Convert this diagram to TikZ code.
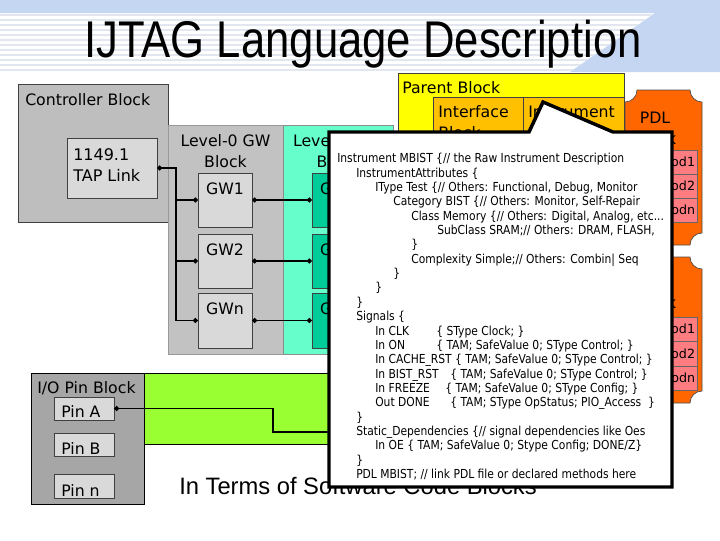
\documentclass[tikz,border=0pt]{standalone}
\usepackage{fontspec}
\setmainfont{DejaVu Sans}
\newfontfamily\titlefont[FakeStretch=0.845]{Liberation Sans}
\newfontfamily\capfont{Liberation Sans}
\newfontfamily\codefont[FakeStretch=0.865]{DejaVu Sans}
\usepackage{tikz}
\usetikzlibrary{arrows.meta,calc,fit,positioning}

\definecolor{bandblue}{RGB}{197,214,243}
\definecolor{stripegray}{RGB}{226,230,238}
\definecolor{ctrlgray}{RGB}{190,190,190}
\definecolor{gwgray}{RGB}{194,194,194}
\definecolor{boxgray}{RGB}{217,217,217}
\definecolor{pingray}{RGB}{166,166,166}
\definecolor{lvlone}{RGB}{102,255,204}
\definecolor{lvlonebox}{RGB}{0,204,153}
\definecolor{parentyellow}{RGB}{255,255,0}
\definecolor{ifaceorange}{RGB}{255,192,0}
\definecolor{pdlorange}{RGB}{255,102,0}
\definecolor{methodpink}{RGB}{255,124,128}
\definecolor{linkgreen}{RGB}{153,255,51}

\begin{document}
\begin{tikzpicture}[
    x=0.75pt, y=-0.75pt,
    block/.style={draw=black!75, line width=0.5pt, inner sep=0pt},
    gwbox/.style={block, fill=boxgray},
    blocklabel/.style={inner sep=0pt, font=\fontsize{11.8}{15.75}\selectfont, align=center},
    methodlabel/.style={inner sep=0pt, font=\fontsize{9.5}{11}\selectfont},
    codetext/.style={inner sep=0pt, align=left, font=\codefont\fontsize{9.3}{10.77}\selectfont},
    wire/.style={line width=1.4pt},
    dotwire/.style={wire, {Circle[length=3.5pt]}-{Circle[length=3.5pt]}},
    endwire/.style={wire, -{Circle[length=3.5pt]}},
    calloutbox/.style={fill=white, draw=black, line width=2.6pt, line join=miter}
  ]
    \useasboundingbox (0,0) rectangle (720,540);

    % slide background
    \fill[bandblue] (0,0) -- (720,0) -- (720,72) -- (570,72) -- (655,13) -- (0,13) -- cycle;
    \begin{scope}
      \clip (0,13) -- (655,13) -- (570,72) -- (0,72) -- cycle;
      \foreach \yy in {15,20,...,70}
        \draw[stripegray, line width=1.2pt] (0,\yy) -- (720,\yy);
    \end{scope}
    \node[anchor=base, inner sep=0pt, font=\titlefont\fontsize{38.75}{42}\selectfont] (title) at (363,57) {IJTAG Language Description};

    % controller and gateway blocks
    \node[block, fill=ctrlgray, fit={(18,84) (168,222)}] (ctrl) {};
    \node[blocklabel, anchor=base west] at (25,105) {Controller Block};
    \node[gwbox, fit={(67,138) (157,198)}] (tap) {};
    \node[blocklabel, align=left, font=\fontsize{12}{15.75}\selectfont, anchor=north west] at (73,148) {1149.1\\TAP Link};

    \node[block, draw=black!40, fill=gwgray, fit={(168,125) (283,354)}] (lvlzero) {};
    \node[blocklabel, anchor=north] at (225.5,134) {Level-0 GW\\Block};
    \node[gwbox, fit={(198,173) (252,227)}] (gw1) {};
    \node[gwbox, fit={(198,234) (252,288)}] (gw2) {};
    \node[gwbox, fit={(198,293) (252,348)}] (gwn) {};
    \node[blocklabel, anchor=base] at ($(gw1.north)+(0,22)$) {GW1};
    \node[blocklabel, anchor=base] at ($(gw2.north)+(0,22)$) {GW2};
    \node[blocklabel, anchor=base] at ($(gwn.north)+(0,22)$) {GWn};

    \node[block, draw=black!45, fill=lvlone, fit={(283,125) (393,354)}] (lvlone) {};
    \node[blocklabel, anchor=north] at (338,134) {Level-1 GW\\Block};
    \node[block, fill=lvlonebox, fit={(312,173) (366,227)}] (gw1b) {};
    \node[block, fill=lvlonebox, fit={(312,234) (366,288)}] (gw2b) {};
    \node[block, fill=lvlonebox, fit={(312,293) (366,348)}] (gwnb) {};
    \node[blocklabel, anchor=base] at ($(gw1b.north)+(0,22)$) {GW1};
    \node[blocklabel, anchor=base] at ($(gw2b.north)+(0,22)$) {GW2};
    \node[blocklabel, anchor=base] at ($(gwnb.north)+(0,22)$) {GWn};

    \coordinate (bus) at (176,168);
    \draw[dotwire] (tap.east) -- (bus) |- (gwn.west);
    \draw[endwire] (bus) |- (gw1.west);
    \draw[endwire] (bus) |- (gw2.west);
    \draw[dotwire] (gw1.east) -- (gw1b.west);
    \draw[dotwire] (gw2.east) -- (gw2b.west);
    \draw[dotwire] (gwn.east) -- (gwnb.west);

    % parent block
    \node[block, fill=parentyellow, fit={(398,73) (624,300)}] (parent) {};
    \node[blocklabel, anchor=base west] at (402,93) {Parent Block};
    \node[block, fill=ifaceorange, fit={(433,97) (523,250)}] (iface) {};
    \node[block, fill=ifaceorange, fit={(523,97) (624,250)}] (instr) {};
    \node[blocklabel, align=left, anchor=north west] at (438,105) {Interface\\Block};
    \node[blocklabel, align=left, anchor=north west] at (528,105.5) {Instrument\\Block};

    % PDL blocks
    \draw[draw=black!70, line width=0.5pt, fill=pdlorange]
      (637,90) -- (690,90) .. controls (690,96.6) and (695.4,102) .. (702,102)
      -- (702,233) .. controls (695.4,233) and (690,238.4) .. (690,245)
      -- (637,245) .. controls (637,238.4) and (631.6,233) .. (625,233)
      -- (625,102) .. controls (631.6,102) and (637,96.6) .. (637,90) -- cycle;
    \draw[draw=black!70, line width=0.5pt, fill=pdlorange]
      (637,257) -- (690,257) .. controls (690,263.6) and (695.4,269) .. (702,269)
      -- (702,391) .. controls (695.4,391) and (690,396.4) .. (690,403)
      -- (637,403) .. controls (637,396.4) and (631.6,391) .. (625,391)
      -- (625,269) .. controls (631.6,269) and (637,263.6) .. (637,257) -- cycle;
    \node[blocklabel, anchor=north] (pdlone) at (655,112) {PDL\\Block};
    \node[blocklabel, anchor=north] (pdltwo) at (655,276) {PDL\\Block};
    \node[block, draw=black!60, fill=methodpink, fit={(632,150) (697,174)}] (m11) {};
    \node[block, draw=black!60, fill=methodpink, fit={(632,174) (697,198)}] (m12) {};
    \node[block, draw=black!60, fill=methodpink, fit={(632,198) (697,222)}] (m1n) {};
    \node[block, draw=black!60, fill=methodpink, fit={(632,317) (697,341)}] (m21) {};
    \node[block, draw=black!60, fill=methodpink, fit={(632,341) (697,366)}] (m22) {};
    \node[block, draw=black!60, fill=methodpink, fit={(632,366) (697,390)}] (m2n) {};
    \node[methodlabel, anchor=east] at ($(m11.east)+(-2,0)$) {Method1};
    \node[methodlabel, anchor=east] at ($(m12.east)+(-2,0)$) {Method2};
    \node[methodlabel, anchor=east] at ($(m1n.east)+(-2,0)$) {Methodn};
    \node[methodlabel, anchor=east] at ($(m21.east)+(-2,0)$) {Method1};
    \node[methodlabel, anchor=east] at ($(m22.east)+(-2,0)$) {Method2};
    \node[methodlabel, anchor=east] at ($(m2n.east)+(-2,0)$) {Methodn};

    % I/O pins
    \node[block, draw=black, fill=pingray, fit={(31,373) (144,504)}] (iopins) {};
    \node[blocklabel, anchor=base west] at (37,393) {I/O Pin Block};
    \node[gwbox, fit={(54,397) (114,420)}] (pina) {};
    \node[gwbox, fit={(54,433) (114,456)}] (pinb) {};
    \node[gwbox, fit={(54,474) (114,498)}] (pinn) {};
    \node[blocklabel, anchor=base west] at (61,417) {Pin A};
    \node[blocklabel, anchor=base west] at (61,454) {Pin B};
    \node[blocklabel, anchor=base west] at (61,496) {Pin n};
    \node[block, draw=black, fill=linkgreen, fit={(144,373) (420,444)}] (pinlink) {};
    \coordinate (pinbend) at (273,432);
    \coordinate (pinend) at (380,432);
    \draw[wire, {Circle[length=3.5pt]}-] (pina.east) -| (pinbend) -- (pinend);

    \node[anchor=base west, inner sep=0pt, font=\capfont\fontsize{17.8}{20}\selectfont] (caption) at (179,494) {In Terms of Software Code Blocks};

    % code callout
    \draw[calloutbox] (329,132) -- (529,132) -- (543,102) -- (613,132) -- (672,132) -- (672,487) -- (329,487) -- cycle;
    \node[codetext, anchor=north west] (code) at (337,153) {%
      Instrument MBIST \{// the Raw Instrument Description\\
      \hspace*{14.25pt}InstrumentAttributes \{\\
      \hspace*{28.5pt}IType Test \{// Others: Functional, Debug, Monitor\\
      \hspace*{42pt}Category BIST \{// Others: Monitor, Self-Repair\\
      \hspace*{55.5pt}Class Memory \{// Others: Digital, Analog, etc...\\
      \hspace*{75pt}SubClass SRAM;// Others: DRAM, FLASH,\\
      \hspace*{55.5pt}\}\\
      \hspace*{55.5pt}Complexity Simple;// Others: Combin| Seq\\
      \hspace*{42pt}\}\\
      \hspace*{28.5pt}\}\\
      \hspace*{14.25pt}\}\\
      \hspace*{14.25pt}Signals \{\\
      \hspace*{28.5pt}\makebox[45.75pt][l]{In CLK}\{ SType Clock; \}\\
      \hspace*{28.5pt}\makebox[45.75pt][l]{In ON}\{ TAM; SafeValue 0; SType Control; \}\\
      \hspace*{28.5pt}In CACHE\_RST \{ TAM; SafeValue 0; SType Control; \}\\
      \hspace*{28.5pt}\makebox[56.25pt][l]{In BIST\_RST}\{ TAM; SafeValue 0; SType Control; \}\\
      \hspace*{28.5pt}\makebox[52.5pt][l]{In FREEZE}\{ TAM; SafeValue 0; SType Config; \}\\
      \hspace*{28.5pt}\makebox[56.25pt][l]{Out DONE}\{ TAM; SType OpStatus; PIO\_Access\ \ \}\\
      \hspace*{14.25pt}\}\\
      \hspace*{14.25pt}Static\_Dependencies \{// signal dependencies like Oes\\
      \hspace*{28.5pt}In OE \{ TAM; SafeValue 0; Stype Config; DONE/Z\}\\
      \hspace*{14.25pt}\}\\
      \hspace*{14.25pt}PDL MBIST; // link PDL file or declared methods here};
  \end{tikzpicture}
\end{document}
